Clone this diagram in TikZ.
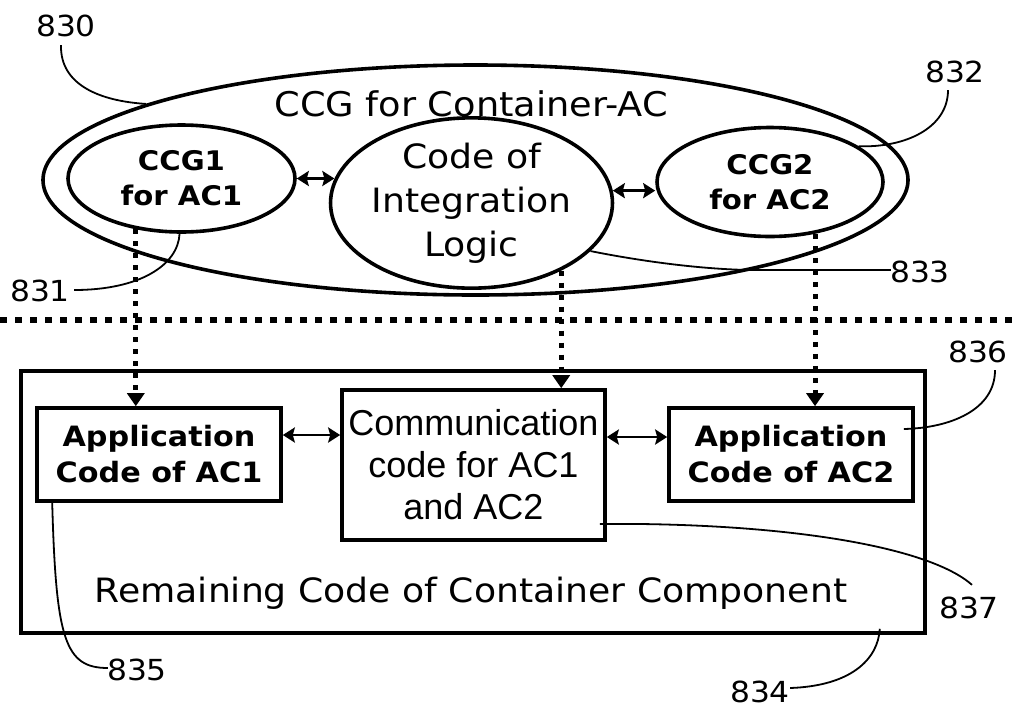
\documentclass[tikz,border=0pt]{standalone}
\usepackage{fontspec}
\setmainfont{DejaVu Sans}[FakeStretch=1.08]
\newfontfamily\arialf{Liberation Sans}
\usetikzlibrary{shapes.geometric,arrows.meta}
\begin{document}
\begin{tikzpicture}[x=1pt,y=-1pt,
  ell/.style={draw,ellipse,line width=3.6pt,inner sep=0pt,align=center},
  box/.style={draw,rectangle,line width=3.6pt,inner sep=0pt,align=center},
  boldtxt/.style={font=\bfseries\fontsize{27}{35}\selectfont},
  appfont/.style={font=\bfseries\fontsize{28}{36}\selectfont},
  bigtxt/.style={font=\fontsize{33.5}{44}\selectfont},
  reftxt/.style={font=\fontsize{29}{36}\selectfont,inner sep=0pt},
  dbl/.style={{Stealth[length=12pt,width=15pt,inset=2pt]}-{Stealth[length=12pt,width=15pt,inset=2pt]},line width=2.8pt},
  dotarrow/.style={-{Triangle[length=13pt,width=17pt]},line width=5pt,dash pattern=on 5pt off 7pt},
  hdots/.style={line width=6.5pt,dash pattern=on 6.5pt off 8.5pt},
  leader/.style={line width=1.8pt}]
\useasboundingbox (0,0) rectangle (1014,710);
% top group
\node[ell,minimum width=865pt,minimum height=230pt] (ccg) at (475.5,180) {};
\node[font=\fontsize{34}{40}\selectfont] (title) at (471,104) {CCG for Container-AC};
\node[ell,boldtxt,minimum width=227pt,minimum height=107pt] (ccg1) at (181.5,178.5) {CCG1\\for AC1};
\node[ell,bigtxt,minimum width=263pt,minimum height=150pt] (code) at (471.5,203) {Code of\\Integration\\Logic};
\node[ell,boldtxt,minimum width=226pt,minimum height=109pt] (ccg2) at (770,182) {CCG2\\for AC2};
\draw[dbl] (ccg1.east) -- (ccg1.east -| code.170);
\draw[dbl] (code.5.7) -- (code.5.7 -| ccg2.west);
% separator
\coordinate (sepL) at (0,320);
\coordinate (sepR) at (1014,320);
\draw[hdots] (sepL) -- (sepR);
% bottom group
\node[box,minimum width=904pt,minimum height=262pt] (outer) at (473,502) {};
\node[font=\fontsize{33.5}{40}\selectfont] (rem) at (471,593) {Remaining Code of Container Component};
\node[box,appfont,minimum width=244pt,minimum height=93pt] (app1) at (159,454.5) {Application\\Code of AC1};
\node[box,font=\arialf\fontsize{36}{42}\selectfont,minimum width=263pt,minimum height=150pt] (comm) at (473.5,465) {Communication\\code for AC1\\and AC2};
\node[box,appfont,minimum width=244pt,minimum height=93pt] (app2) at (791,454.5) {Application\\Code of AC2};
\draw[dbl] ([yshift=19.5pt]app1.east) -- ([yshift=19.5pt]app1.east -| comm.west);
\draw[dbl] ([yshift=28pt]comm.east) -- ([yshift=28pt]comm.east -| app2.west);
% dotted arrows
\draw[dotarrow] (ccg1.228) -- (ccg1.228 |- app1.north);
\draw[dotarrow] (code.-37) -- (code.-37 |- comm.north);
\draw[dotarrow] (ccg2.-49) -- (ccg2.-49 |- app2.north);
% reference labels
\node[reftxt] (l830) at (66,26) {830};
\node[reftxt] (l831) at (40,291) {831};
\node[reftxt] (l832) at (955,72) {832};
\node[reftxt] (l833) at (920,272) {833};
\node[reftxt] (l836) at (978,352) {836};
\node[reftxt] (l837) at (969,608) {837};
\node[reftxt] (l834) at (760,692) {834};
\node[reftxt] (l835) at (137,670) {835};
\coordinate (e836) at ([shift={(-11pt,25.5pt)}]app2.east);
\coordinate (e837) at ([shift={(-7pt,-59pt)}]comm.east);
\coordinate (e834) at ([shift={(-47pt,6pt)}]outer.south east);
\coordinate (e835) at ([xshift=17pt]app1.south west);
\draw[leader] ([shift={(-5pt,-8pt)}]l830.south) .. controls (60,85) and (100,101) .. (ccg.167);
\draw[leader] ([shift={(4pt,1pt)}]l831.east) .. controls (140,290) and (178,265) .. (ccg1.-92);
\draw[leader] ([shift={(-7pt,-7pt)}]l832.south) .. controls (948,128) and (905,148) .. (ccg2.22);
\draw[leader] ([shift={(1pt,2pt)}]l833.west) -- (750,270) .. controls (690,269) and (625,258) .. (code.-22);
\draw[leader] ([shift={(17pt,-7pt)}]l836.south) .. controls (995,410) and (950,428) .. (e836);
\draw[leader] (e837) -- (640,524) .. controls (800,526) and (930,548) .. ([shift={(3pt,12pt)}]l837.north);
\draw[leader] ([shift={(0pt,4pt)}]l834.east) .. controls (850,686) and (878,660) .. (e834);
\draw[leader] (e835) .. controls (56,640) and (65,668) .. ([shift={(1pt,2pt)}]l835.west);
\end{tikzpicture}
\end{document}
